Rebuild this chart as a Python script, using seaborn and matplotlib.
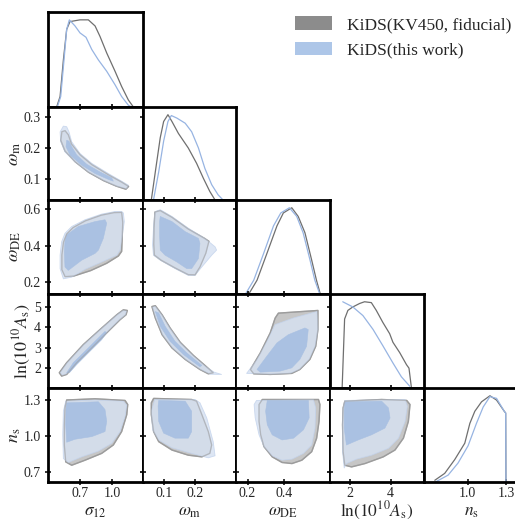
import matplotlib
matplotlib.use("Agg")
import matplotlib.pyplot as plt
from matplotlib.patches import Patch
import seaborn as sns

# ---------------- parameters ----------------
param_labels = [r"$\sigma_{12}$", r"$\omega_{\rm m}$", r"$\omega_{\rm DE}$",
                r"$\ln(10^{10}A_{\rm s})$", r"$n_{\rm s}$"]
param_limits = [(0.40, 1.29), (0.031, 0.333), (0.137, 0.651), (1.05, 5.62), (0.615, 1.40)]
diag_ns_limits = (0.655, 1.395)
x_ticks = [[0.7, 1.0], [0.1, 0.2], [0.2, 0.4], [2, 4], [1.0, 1.3]]
y_ticks = [[], [0.1, 0.2, 0.3], [0.2, 0.4, 0.6], [2, 3, 4, 5], [0.7, 1.0, 1.3]]
tick_fmt = ["{:.1f}", "{:.1f}", "{:.1f}", "{:.0f}", "{:.1f}"]
legend_labels = ["KiDS(KV450, fiducial)", "KiDS(this work)"]

# ---------------- 1D marginals (peak normalised) ----------------
sigma12_kv_x = [0.481, 0.513, 0.544, 0.575, 0.606, 0.70, 0.778, 0.841, 0.887, 0.95, 1.028, 1.09, 1.153, 1.20]
sigma12_kv_p = [0, 0.12, 0.54, 0.89, 0.98, 1.0, 1.0, 0.93, 0.81, 0.62, 0.41, 0.235, 0.08, 0]
sigma12_tw_x = [0.487, 0.519, 0.55, 0.575, 0.60, 0.653, 0.70, 0.756, 0.81, 0.872, 0.95, 1.028, 1.09, 1.153, 1.184]
sigma12_tw_p = [0, 0.12, 0.54, 0.89, 1.0, 0.93, 0.85, 0.80, 0.66, 0.54, 0.41, 0.255, 0.12, 0.02, 0]

omm_kv_x = [0.058, 0.071, 0.087, 0.098, 0.112, 0.125, 0.146, 0.178, 0.205, 0.227, 0.248, 0.265]
omm_kv_p = [0, 0.33, 0.73, 0.92, 1.0, 0.92, 0.78, 0.61, 0.43, 0.255, 0.10, 0]
omm_tw_x = [0.065, 0.082, 0.098, 0.112, 0.123, 0.141, 0.168, 0.189, 0.211, 0.232, 0.254, 0.275, 0.291]
omm_tw_p = [0, 0.33, 0.69, 0.92, 0.99, 0.96, 0.90, 0.80, 0.61, 0.37, 0.18, 0.06, 0]

omde_kv_x = [0.207, 0.252, 0.306, 0.361, 0.396, 0.442, 0.477, 0.514, 0.55, 0.577, 0.598]
omde_kv_p = [0, 0.16, 0.47, 0.79, 0.94, 1.0, 0.90, 0.71, 0.40, 0.16, 0]
omde_tw_x = [0.189, 0.234, 0.288, 0.342, 0.382, 0.429, 0.469, 0.504, 0.541, 0.568, 0.595]
omde_tw_p = [0, 0.16, 0.47, 0.79, 0.94, 1.0, 0.90, 0.71, 0.40, 0.16, 0]

lnas_kv_x = [1.64, 1.76, 1.92, 2.16, 2.49, 2.73, 3.06, 3.30, 3.62, 3.95, 4.11, 4.44, 4.77, 4.89, 5.01]
lnas_kv_p = [0, 0.80, 0.90, 0.94, 0.98, 1.0, 0.99, 0.90, 0.76, 0.63, 0.53, 0.41, 0.27, 0.23, 0]
lnas_tw_x = [1.67, 2.16, 2.65, 3.14, 3.62, 4.11, 4.52, 4.93]
lnas_tw_p = [1.0, 0.94, 0.84, 0.68, 0.49, 0.29, 0.13, 0.02]

ns_kv_x = [0.74, 0.818, 0.897, 0.976, 1.016, 1.055, 1.108, 1.174, 1.226, 1.287, 1.298, 1.30]
ns_kv_p = [0.02, 0.10, 0.26, 0.45, 0.68, 0.82, 0.93, 1.0, 0.95, 0.82, 0.80, 0]
ns_tw_x = [0.745, 0.845, 0.923, 1.002, 1.068, 1.121, 1.174, 1.226, 1.287, 1.298, 1.30]
ns_tw_p = [0.0, 0.08, 0.22, 0.42, 0.68, 0.87, 0.99, 0.97, 0.82, 0.80, 0]

# ---------------- 2D contours (x, y) ----------------
# omega_m vs sigma12
omm_sig_kv95 = [(0.53, 0.253), (0.52, 0.225), (0.56, 0.19), (0.655, 0.155), (0.78, 0.121), (0.92, 0.094),
                (1.04, 0.076), (1.13, 0.066), (1.155, 0.075), (1.09, 0.089), (0.965, 0.113), (0.81, 0.146),
                (0.70, 0.178), (0.62, 0.213), (0.59, 0.243), (0.56, 0.256)]
omm_sig_tw95 = [(0.544, 0.271), (0.513, 0.252), (0.519, 0.220), (0.559, 0.187), (0.653, 0.155), (0.778, 0.122),
                (0.918, 0.095), (1.044, 0.076), (1.138, 0.068), (1.153, 0.079), (1.09, 0.092), (0.965, 0.117),
                (0.81, 0.150), (0.70, 0.182), (0.622, 0.220), (0.597, 0.252), (0.575, 0.269)]
omm_sig_tw68 = [(0.575, 0.225), (0.569, 0.204), (0.606, 0.177), (0.716, 0.144), (0.841, 0.117), (0.965, 0.098),
                (1.012, 0.092), (0.997, 0.103), (0.887, 0.122), (0.763, 0.147), (0.669, 0.177), (0.622, 0.204),
                (0.597, 0.222)]

# omega_DE vs sigma12
omde_sig_kv95 = [(1.09, 0.583), (1.10, 0.53), (1.095, 0.44), (1.09, 0.37), (1.06, 0.345), (0.95, 0.305),
                 (0.80, 0.265), (0.64, 0.235), (0.56, 0.232), (0.53, 0.27), (0.53, 0.35), (0.545, 0.42),
                 (0.575, 0.465), (0.635, 0.50), (0.75, 0.537), (0.90, 0.568), (1.02, 0.582)]
omde_sig_tw95 = [(1.106, 0.580), (1.115, 0.533), (1.097, 0.460), (1.075, 0.377), (1.044, 0.349), (0.903, 0.312),
                 (0.747, 0.272), (0.622, 0.229), (0.544, 0.220), (0.513, 0.276), (0.513, 0.349), (0.528, 0.423),
                 (0.559, 0.469), (0.622, 0.506), (0.747, 0.543), (0.903, 0.574), (1.028, 0.588), (1.09, 0.588)]
omde_sig_tw68 = [(0.575, 0.460), (0.684, 0.506), (0.841, 0.533), (0.934, 0.543), (0.95, 0.524), (0.918, 0.441),
                 (0.872, 0.377), (0.841, 0.359), (0.716, 0.322), (0.59, 0.266), (0.559, 0.285), (0.553, 0.367),
                 (0.559, 0.423)]

# omega_DE vs omega_m
omde_omm_kv95 = [(0.07, 0.585), (0.087, 0.593), (0.125, 0.556), (0.178, 0.492), (0.232, 0.44), (0.245, 0.425),
                 (0.235, 0.36), (0.216, 0.285), (0.20, 0.242), (0.178, 0.243), (0.135, 0.28), (0.09, 0.322),
                 (0.068, 0.35), (0.066, 0.41), (0.067, 0.50), (0.069, 0.56)]
omde_omm_tw95 = [(0.071, 0.588), (0.087, 0.598), (0.125, 0.561), (0.178, 0.497), (0.232, 0.441), (0.265, 0.395),
                 (0.270, 0.377), (0.254, 0.349), (0.222, 0.285), (0.200, 0.239), (0.178, 0.239), (0.135, 0.276),
                 (0.087, 0.322), (0.065, 0.349), (0.062, 0.404), (0.065, 0.497), (0.068, 0.561)]
omde_omm_tw68 = [(0.087, 0.561), (0.125, 0.533), (0.168, 0.478), (0.211, 0.441), (0.216, 0.414), (0.211, 0.331),
                 (0.189, 0.276), (0.173, 0.276), (0.141, 0.312), (0.103, 0.349), (0.087, 0.377), (0.085, 0.460),
                 (0.085, 0.533)]

# lnAs vs sigma12
lnas_sig_kv95 = [(0.528, 1.63), (0.506, 1.79), (0.575, 2.28), (0.731, 3.16), (0.887, 3.89), (1.044, 4.61),
                 (1.106, 4.85), (1.143, 4.82), (1.131, 4.61), (1.075, 4.37), (0.95, 3.73), (0.794, 2.92),
                 (0.669, 2.28), (0.575, 1.71)]
lnas_sig_tw95 = [(0.535, 1.67), (0.515, 1.80), (0.58, 2.28), (0.735, 3.16), (0.89, 3.89), (1.045, 4.60),
                 (1.10, 4.81), (1.135, 4.79), (1.125, 4.60), (1.07, 4.37), (0.945, 3.73), (0.79, 2.92),
                 (0.665, 2.28), (0.575, 1.74)]
lnas_sig_tw68 = [(0.575, 1.79), (0.637, 2.28), (0.763, 2.92), (0.887, 3.56), (0.934, 3.80), (0.95, 3.73),
                 (0.903, 3.40), (0.794, 2.84), (0.669, 2.19), (0.600, 1.79)]

# lnAs vs omega_m
lnas_omm_kv95 = [(0.060, 5.01), (0.071, 4.45), (0.093, 3.64), (0.125, 3.00), (0.168, 2.44), (0.216, 1.95),
                 (0.243, 1.74), (0.259, 1.79), (0.232, 2.15), (0.195, 2.63), (0.152, 3.27), (0.119, 3.97),
                 (0.093, 4.61), (0.071, 5.05)]
lnas_omm_tw95 = [(0.062, 4.98), (0.073, 4.45), (0.095, 3.64), (0.127, 3.00), (0.170, 2.44), (0.218, 1.95),
                 (0.250, 1.72), (0.286, 1.71), (0.262, 1.82), (0.232, 2.12), (0.195, 2.60), (0.152, 3.24),
                 (0.119, 3.94), (0.093, 4.58), (0.071, 5.02)]
lnas_omm_tw68 = [(0.071, 4.77), (0.087, 4.05), (0.119, 3.32), (0.162, 2.68), (0.216, 2.08), (0.222, 2.15),
                 (0.173, 2.76), (0.135, 3.32), (0.103, 4.05), (0.082, 4.70)]

# lnAs vs omega_DE
lnas_omde_kv95 = [(0.369, 4.69), (0.585, 4.82), (0.585, 3.89), (0.573, 3.08), (0.541, 2.44), (0.486, 1.95),
                  (0.442, 1.76), (0.324, 1.71), (0.234, 1.74), (0.216, 1.95), (0.270, 2.76), (0.324, 3.73),
                  (0.351, 4.45)]
lnas_omde_tw95 = [(0.195, 1.76), (0.252, 2.44), (0.306, 3.32), (0.351, 4.13), (0.45, 4.45), (0.580, 4.77),
                  (0.585, 3.89), (0.569, 3.08), (0.537, 2.44), (0.483, 1.95), (0.432, 1.76), (0.324, 1.72)]
lnas_omde_tw68 = [(0.252, 1.95), (0.306, 2.60), (0.361, 3.24), (0.423, 3.64), (0.514, 3.97), (0.532, 3.89),
                  (0.523, 3.08), (0.486, 2.44), (0.442, 2.03), (0.378, 1.87), (0.270, 1.82)]

# n_s vs sigma12
ns_sig_kv95 = [(0.575, 1.30), (0.841, 1.31), (1.122, 1.296), (1.147, 1.262), (1.138, 1.178), (1.09, 1.036),
               (1.012, 0.924), (0.903, 0.854), (0.747, 0.797), (0.622, 0.755), (0.566, 0.783), (0.553, 0.924),
               (0.553, 1.093), (0.559, 1.234)]
ns_sig_tw95 = [(0.566, 1.29), (0.841, 1.30), (1.106, 1.29), (1.138, 1.256), (1.122, 1.163), (1.075, 1.036),
               (0.997, 0.938), (0.872, 0.873), (0.716, 0.825), (0.59, 0.778), (0.544, 0.811), (0.538, 1.009),
               (0.544, 1.206)]
ns_sig_tw68 = [(0.575, 1.276), (0.872, 1.285), (0.934, 1.22), (0.95, 1.121), (0.934, 1.036), (0.81, 0.994),
               (0.653, 0.972), (0.575, 0.947), (0.566, 1.093), (0.569, 1.234)]

# n_s vs omega_m
ns_omm_kv95 = [(0.0655, 1.313), (0.189, 1.304), (0.205, 1.29), (0.222, 1.178), (0.243, 1.036), (0.254, 0.924),
               (0.248, 0.854), (0.222, 0.825), (0.178, 0.839), (0.125, 0.882), (0.082, 0.952), (0.0655, 1.036),
               (0.058, 1.178), (0.058, 1.276)]
ns_omm_tw95 = [(0.069, 1.304), (0.20, 1.304), (0.216, 1.276), (0.238, 1.15), (0.259, 0.952), (0.265, 0.834),
               (0.243, 0.817), (0.189, 0.854), (0.125, 0.901), (0.082, 0.966), (0.062, 1.051), (0.058, 1.206)]
ns_omm_tw68 = [(0.082, 1.296), (0.168, 1.29), (0.189, 1.206), (0.189, 1.036), (0.178, 0.981), (0.135, 0.981),
               (0.098, 1.023), (0.082, 1.121), (0.080, 1.248)]

# n_s vs omega_DE
ns_omde_kv95 = [(0.281, 1.304), (0.588, 1.304), (0.596, 1.262), (0.591, 1.121), (0.578, 0.981), (0.551, 0.868),
                (0.497, 0.797), (0.443, 0.769), (0.389, 0.778), (0.335, 0.825), (0.29, 0.91), (0.272, 1.009),
                (0.263, 1.121), (0.263, 1.262)]
ns_omde_tw95 = [(0.249, 1.296), (0.56, 1.304), (0.573, 1.234), (0.569, 1.065), (0.551, 0.924), (0.506, 0.854),
                (0.443, 0.806), (0.389, 0.797), (0.335, 0.834), (0.29, 0.91), (0.263, 1.009), (0.242, 1.15),
                (0.236, 1.262)]
ns_omde_tw68 = [(0.308, 1.296), (0.533, 1.296), (0.537, 1.15), (0.506, 1.051), (0.452, 0.981), (0.389, 0.966),
                (0.335, 1.009), (0.308, 1.093), (0.299, 1.206)]

# n_s vs lnAs
ns_lnas_kv95 = [(1.77, 1.29), (3.56, 1.304), (4.78, 1.296), (4.94, 1.262), (4.86, 1.121), (4.62, 0.981),
                (4.21, 0.882), (3.64, 0.825), (2.75, 0.769), (2.10, 0.741), (1.77, 0.755), (1.69, 0.868),
                (1.66, 1.093), (1.69, 1.234)]
ns_lnas_tw95 = [(1.77, 1.296), (4.70, 1.304), (4.81, 1.248), (4.70, 1.121), (4.38, 0.981), (3.89, 0.896),
                (3.07, 0.839), (2.34, 0.806), (1.85, 0.769), (1.74, 0.732), (1.66, 0.868), (1.66, 1.093),
                (1.69, 1.234)]
ns_lnas_tw68 = [(1.77, 1.285), (3.56, 1.29), (3.89, 1.234), (3.97, 1.15), (3.72, 1.065), (3.07, 1.009),
                (2.42, 0.966), (1.85, 0.924), (1.74, 1.065), (1.74, 1.206)]

marginals = [
    (sigma12_kv_x, sigma12_kv_p, sigma12_tw_x, sigma12_tw_p),
    (omm_kv_x, omm_kv_p, omm_tw_x, omm_tw_p),
    (omde_kv_x, omde_kv_p, omde_tw_x, omde_tw_p),
    (lnas_kv_x, lnas_kv_p, lnas_tw_x, lnas_tw_p),
    (ns_kv_x, ns_kv_p, ns_tw_x, ns_tw_p),
]
contours = {
    (1, 0): (omm_sig_kv95, omm_sig_tw95, omm_sig_tw68),
    (2, 0): (omde_sig_kv95, omde_sig_tw95, omde_sig_tw68),
    (2, 1): (omde_omm_kv95, omde_omm_tw95, omde_omm_tw68),
    (3, 0): (lnas_sig_kv95, lnas_sig_tw95, lnas_sig_tw68),
    (3, 1): (lnas_omm_kv95, lnas_omm_tw95, lnas_omm_tw68),
    (3, 2): (lnas_omde_kv95, lnas_omde_tw95, lnas_omde_tw68),
    (4, 0): (ns_sig_kv95, ns_sig_tw95, ns_sig_tw68),
    (4, 1): (ns_omm_kv95, ns_omm_tw95, ns_omm_tw68),
    (4, 2): (ns_omde_kv95, ns_omde_tw95, ns_omde_tw68),
    (4, 3): (ns_lnas_kv95, ns_lnas_tw95, ns_lnas_tw68),
}

# ---------------- style ----------------
sns.set_style("ticks")
plt.rcParams["font.family"] = ["Liberation Serif", "DejaVu Serif"]
plt.rcParams["mathtext.fontset"] = "stix"

gray_line = "#6f6f6f"
blue_line = "#97b4e2"
gray_face, gray_edge = "#c6c6c6", "#9c9c9c"
blue_face, blue_edge = "#d6e1f2", "#c3d3ec"
blue_inner = "#a8c0e2"

W, H = 515, 521
fig = plt.figure(figsize=(W / 100, H / 100), dpi=100)
col_edges = [48, 143, 236, 330, 424, 518]
row_edges = [12, 107, 200, 294, 388, 482]


def fmt_ticks(vals, k):
    return [tick_fmt[k].format(v) for v in vals]


def draw_poly(ax, pts, face, edge, lw, z, alpha=1.0):
    xs = [p[0] for p in pts]
    ys = [p[1] for p in pts]
    ax.fill(xs, ys, facecolor=face, edgecolor=edge, linewidth=lw, alpha=alpha, zorder=z,
            joinstyle="round")


def bottom_label(ax, k):
    ax.set_xlabel(param_labels[k], fontsize=12.5)
    ax.xaxis.label.set_va("baseline")
    ax.xaxis.set_label_coords(0.5, -0.36)


for i in range(5):
    for j in range(i + 1):
        x0, x1 = col_edges[j], col_edges[j + 1]
        y0, y1 = row_edges[i], row_edges[i + 1]
        ax = fig.add_axes([x0 / W, 1 - y1 / H, (x1 - x0) / W, (y1 - y0) / H])
        ax.set_facecolor("white")
        if i == j:
            kx, kp, tx, tp = marginals[i]
            sns.lineplot(x=kx, y=kp, ax=ax, color=gray_line, lw=0.9, sort=False, estimator=None)
            sns.lineplot(x=tx, y=tp, ax=ax, color=blue_line, lw=0.9, sort=False, estimator=None)
            ax.set_xlim(diag_ns_limits if i == 4 else param_limits[i])
            ax.set_ylim(0, 1.09)
            ax.set_yticks([])
            ax.set_ylabel("")
            ax.set_xticks(x_ticks[i])
            ax.tick_params(axis="x", direction="inout", length=5, width=1.3, top=False,
                           labelbottom=(i == 4), labelsize=10, pad=1)
            if i == 4:
                ax.set_xticklabels(fmt_ticks(x_ticks[i], i))
                bottom_label(ax, i)
            for s in ax.spines.values():
                s.set_linewidth(2.0)
                s.set_color("black")
        else:
            kv95, tw95, tw68 = contours[(i, j)]
            draw_poly(ax, kv95, gray_face, gray_edge, 1.0, 2)
            draw_poly(ax, tw95, blue_face, blue_edge, 0.6, 3, alpha=0.82)
            draw_poly(ax, tw68, blue_inner, blue_inner, 0.4, 4, alpha=0.95)
            # outline of the fiducial 95% region shows through the blue
            draw_poly(ax, kv95, "none", gray_edge, 0.9, 5, alpha=0.55)
            ax.set_xlim(param_limits[j])
            ax.set_ylim(param_limits[i])
            ax.set_xticks(x_ticks[j])
            ax.set_yticks(y_ticks[i])
            ax.tick_params(direction="inout", length=5, width=1.3, top=True, right=True,
                           labelbottom=(i == 4), labelleft=(j == 0), labelsize=10)
            ax.tick_params(axis="x", pad=1)
            ax.tick_params(axis="y", pad=2.5)
            if i == 4:
                ax.set_xticklabels(fmt_ticks(x_ticks[j], j))
                bottom_label(ax, j)
            if j == 0:
                ax.set_yticklabels(fmt_ticks(y_ticks[i], i))
                ax.set_ylabel(param_labels[i], fontsize=13, labelpad=0.5)
            for name, s in ax.spines.items():
                s.set_color("black")
                s.set_linewidth(2.0 if name in ("top", "bottom") or (name == "left" and j == 0) else 1.3)

handles = [Patch(facecolor="#8c8c8c", edgecolor="none", label=legend_labels[0]),
           Patch(facecolor="#adc6e8", edgecolor="none", label=legend_labels[1])]
fig.legend(handles=handles, loc="upper right", bbox_to_anchor=(511 / W, 1 - 16 / H), frameon=False,
           fontsize=12.5, handlelength=2.1, handleheight=0.85, handletextpad=0.85, labelspacing=0.5,
           borderpad=0, borderaxespad=0)

fig.savefig("out.png", dpi=100)
